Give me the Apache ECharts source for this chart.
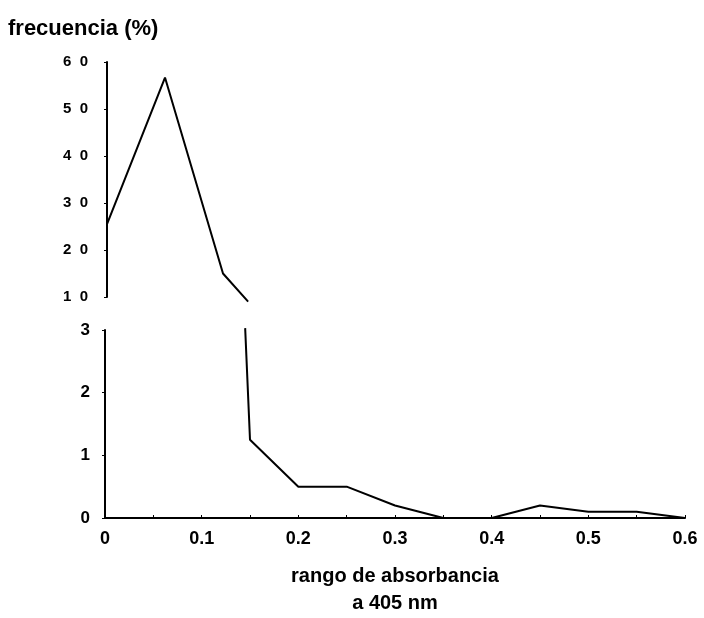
<!DOCTYPE html>
<html><head><meta charset="utf-8">
<script src="https://cdn.jsdelivr.net/npm/echarts@6/dist/echarts.min.js"></script>
<style>html,body{margin:0;padding:0;background:#fff}#c{width:704px;height:618px}</style>
</head><body><div id="c"></div>
<script>
// Upper panel (frecuencia 10-60 %)
const upperX = [0, 0.06, 0.12, 0.146];
const upperY = [25.5, 56.7, 15, 9];
// Lower panel (frecuencia 0-3 %)
const lowerX = [0.145, 0.15, 0.2, 0.25, 0.3, 0.35, 0.4, 0.45, 0.5, 0.55, 0.6];
const lowerY = [3.03, 1.25, 0.5, 0.5, 0.2, 0, 0, 0.2, 0.1, 0.1, 0];
const xTicks = [0, 0.1, 0.2, 0.3, 0.4, 0.5, 0.6];
const upperTicks = [10, 20, 30, 40, 50, 60];
const lowerTicks = [0, 1, 2, 3];

const FONT = 'Liberation Sans';
const chart = echarts.init(document.getElementById('c'));
const pair = (xs, ys) => xs.map((x, i) => [x, ys[i]]);
chart.setOption({
  animation: false,
  title: {
    text: 'frecuencia (%)', left: 3, top: 13,
    textStyle: { fontFamily: FONT, fontWeight: 'bold', fontSize: 22, color: '#000' }
  },
  grid: [
    { left: 107, top: 62, width: 580, height: 235, outerBoundsMode: 'none', containLabel: false },
    { left: 105, top: 330, width: 580, height: 188, outerBoundsMode: 'none', containLabel: false }
  ],
  xAxis: [
    { gridIndex: 0, type: 'value', min: xTicks[0], max: xTicks[xTicks.length - 1], show: false },
    {
      gridIndex: 1, type: 'value', min: xTicks[0], max: xTicks[xTicks.length - 1], interval: 0.1,
      axisLine: { lineStyle: { color: '#000', width: 2 } },
      axisTick: { inside: true, length: 3, lineStyle: { color: '#000' } },
      minorTick: { show: true, splitNumber: 2, length: 3, lineStyle: { color: '#000' } },
      splitLine: { show: false },
      axisLabel: {
        margin: 12, fontFamily: FONT, fontWeight: 'bold', fontSize: 18, color: '#000',
        formatter: v => (Math.round(v * 10) / 10).toString()
      },
      name: 'rango de absorbancia\na 405 nm', nameLocation: 'middle', nameGap: 45,
      nameTextStyle: { fontFamily: FONT, fontWeight: 'bold', fontSize: 20, color: '#000', lineHeight: 27 }
    }
  ],
  yAxis: [
    {
      gridIndex: 0, type: 'value', min: upperTicks[0], max: upperTicks[upperTicks.length - 1], interval: 10,
      axisLine: { show: true, lineStyle: { color: '#000', width: 2 } },
      axisTick: { show: true, length: 3, lineStyle: { color: '#000' } },
      splitLine: { show: false },
      axisLabel: {
        margin: 19, fontFamily: FONT, fontWeight: 'bold', fontSize: 15, color: '#000',
        formatter: v => String(v).split('').join('  ')
      }
    },
    {
      gridIndex: 1, type: 'value', min: lowerTicks[0], max: lowerTicks[lowerTicks.length - 1], interval: 1,
      axisLine: { show: true, lineStyle: { color: '#000', width: 2 } },
      axisTick: { show: true, length: 3, lineStyle: { color: '#000' } },
      splitLine: { show: false },
      axisLabel: { margin: 15, fontFamily: FONT, fontWeight: 'bold', fontSize: 17, color: '#000' }
    }
  ],
  series: [
    {
      type: 'line', xAxisIndex: 0, yAxisIndex: 0, data: pair(upperX, upperY),
      symbol: 'none', clip: false, lineStyle: { color: '#000', width: 2 }
    },
    {
      type: 'line', xAxisIndex: 1, yAxisIndex: 1, data: pair(lowerX, lowerY),
      symbol: 'none', clip: false, lineStyle: { color: '#000', width: 2 }
    }
  ]
});
</script></body></html>
